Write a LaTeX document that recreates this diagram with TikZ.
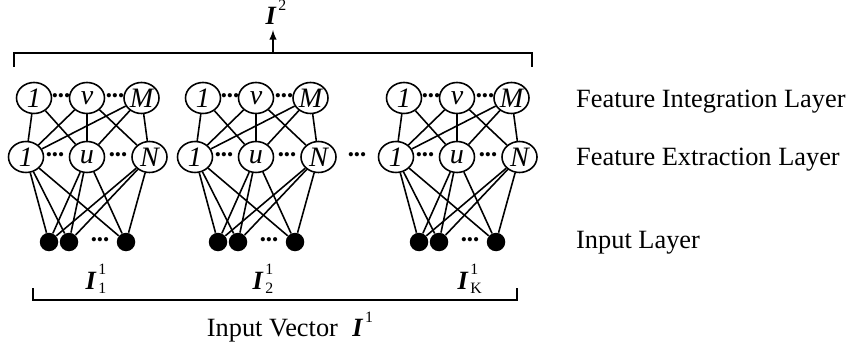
\documentclass[tikz,border=0pt]{standalone}
\usepackage{fontspec}
\setmainfont{Liberation Serif}
\usetikzlibrary{shapes.geometric}

\newcommand{\vecI}[2]{\textbf{\textit{I}}\kern1pt%
  \rlap{\raisebox{-0.35ex}{\fontsize{9}{9}\selectfont #1}}%
  \raisebox{1.2ex}{\fontsize{9}{9}\selectfont #2}}

\begin{document}
\begin{tikzpicture}[
  every node/.style={font=\fontsize{15}{18}\selectfont},
  >=latex,
  neuron/.style={ellipse, draw, line width=0.9pt, minimum width=0.7cm,
    minimum height=0.62cm, inner sep=0pt,
    font=\fontsize{16}{18}\selectfont\itshape},
  inputdot/.style={circle, fill=black, minimum size=0.37cm, inner sep=0pt},
  ellip/.style={inner sep=0pt, font=\fontsize{10}{10}\selectfont},
  link/.style={line width=0.9pt},
  layerlabel/.style={anchor=west},
]

\useasboundingbox (0,0) rectangle (17.1,6.84);

% Three sub-networks
\foreach \g/\x in {a/1.74, b/5.12, c/9.14} {
  % Feature integration layer
  \node[neuron] (\g i1) at (\x-1.06, 4.88) {1};
  \node[neuron] (\g iv) at (\x, 4.88) {v};
  \node[neuron] (\g iM) at (\x+1.09, 4.88) {M};
  \node[ellip] (\g idl) at (\x-0.52, 4.88) {\textbullet\textbullet\textbullet};
  \node[ellip] (\g idr) at (\x+0.56, 4.88) {\textbullet\textbullet\textbullet};
  % Feature extraction layer
  \node[neuron] (\g e1) at (\x-1.22, 3.70) {1};
  \node[neuron] (\g eu) at (\x, 3.70) {u};
  \node[neuron] (\g eN) at (\x+1.25, 3.70) {N};
  \node[ellip] (\g edl) at (\x-0.64, 3.70) {\textbullet\textbullet\textbullet};
  \node[ellip] (\g edr) at (\x+0.62, 3.70) {\textbullet\textbullet\textbullet};
  % Input layer
  \node[inputdot] (\g d1) at (\x-0.76, 2.00) {};
  \node[inputdot] (\g d2) at (\x-0.36, 2.00) {};
  \node[inputdot] (\g d3) at (\x+0.78, 2.00) {};
  \node[ellip] (\g dd) at (\x+0.26, 2.00) {\textbullet\textbullet\textbullet};
  % Links
  \foreach \a/\b in {1/1, 1/u, v/1, v/u, v/N, M/1, M/u, M/N}
    \draw[link] (\g i\a) -- (\g e\b);
  \foreach \a in {1, u, N}
    \foreach \b in {1, 2, 3}
      \draw[link] (\g e\a) -- (\g d\b);
}

% Dots between second and last sub-network
\node[ellip] (gapdots) at (7.14, 3.70) {\textbullet\textbullet\textbullet};

% Top bracket and output
\coordinate (topL) at (0.28, 5.50);
\coordinate (topR) at (10.64, 5.50);
\coordinate (outbase) at (5.46, 5.78);
\draw[link] (topL) -- ++(0, 0.28) -| (topR);
\node[anchor=base, inner sep=0pt] (outvec) at (5.52, 6.34) {\vecI{}{2}};
\draw[link, ->] (outbase) -- ++(0, 0.46);

% Bottom bracket and inputs
\coordinate (botL) at (0.66, 1.08);
\coordinate (botR) at (10.34, 1.08);
\draw[link] (botL) -- ++(0, -0.24) -| (botR);
\node (in1) at (1.92, 1.26) {\vecI{1}{1}};
\node (in2) at (5.26, 1.26) {\vecI{2}{1}};
\node (inK) at (9.36, 1.26) {\vecI{K}{1}};
\node (invec) at (5.8, 0.30) {Input Vector\hspace{0.3em} \vecI{}{1}};

% Layer labels
\node[layerlabel] (lint) at (11.4, 4.80) {Feature Integration Layer};
\node[layerlabel] (lext) at (11.4, 3.64) {Feature Extraction Layer};
\node[layerlabel] (linp) at (11.4, 1.98) {Input Layer};

\end{tikzpicture}
\end{document}
